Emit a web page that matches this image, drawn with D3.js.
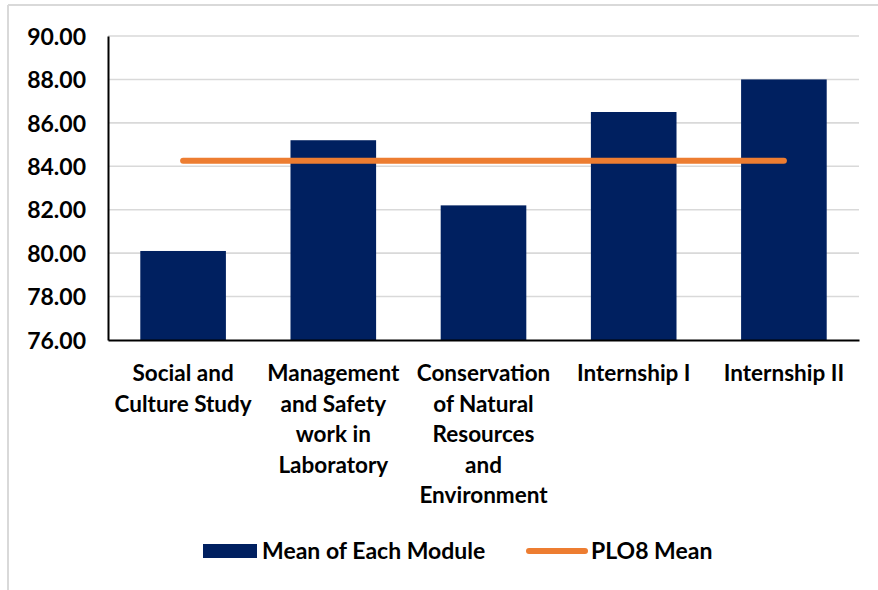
<!DOCTYPE html>
<html>
<head>
<meta charset="utf-8">
<script src="https://cdn.jsdelivr.net/npm/d3@7"></script>
<style>
  body { margin: 0; background: #fff; }
  text { font-family: Lato, "Open Sans", sans-serif; font-weight: bold; fill: #000; }
</style>
</head>
<body>
<script>
/*data*/
const categories = ['Social and Culture Study', 'Management and Safety work in Laboratory',
  'Conservation of Natural Resources and Environment', 'Internship I', 'Internship II'];
const categoryLines = [
  ['Social and', 'Culture Study'],
  ['Management', 'and Safety', 'work in', 'Laboratory'],
  ['Conservation', 'of Natural', 'Resources', 'and', 'Environment'],
  ['Internship I'],
  ['Internship II']
];
const moduleMean = [80.10, 85.20, 82.20, 86.50, 88.00];
const ploMean = [84.25, 84.25, 84.25, 84.25, 84.25];
const yTicks = [76, 78, 80, 82, 84, 86, 88, 90];
const seriesNames = ['Mean of Each Module', 'PLO8 Mean'];

/*canvas size*/
const width = 878;
const height = 590;
const plot = { top: 36, bottom: 340, left: 108, right: 859 };

const svg = d3.select('body')
  .append('svg')
  .attr('width', width)
  .attr('height', height);

/*chart frame (only top and left edges are visible in the crop)*/
svg.append('line').attr('x1', 8).attr('x2', 878).attr('y1', 5).attr('y2', 5)
  .attr('stroke', '#d9d9d9').attr('stroke-width', 2);
svg.append('line').attr('x1', 8).attr('x2', 8).attr('y1', 5).attr('y2', 590)
  .attr('stroke', '#d9d9d9').attr('stroke-width', 2);

/*scales*/
const xScale = d3.scaleBand()
  .domain(categories)
  .range([plot.left, plot.right])
  .paddingInner(0.43)
  .paddingOuter(0.215);
const yScale = d3.scaleLinear()
  .domain([76, 90])
  .range([plot.bottom, plot.top]);

/*gridlines*/
svg.append('g')
  .selectAll('line')
  .data(yTicks.slice(1))
  .enter().append('line')
  .attr('x1', plot.left).attr('x2', plot.right)
  .attr('y1', d => yScale(d)).attr('y2', d => yScale(d))
  .attr('stroke', '#d9d9d9').attr('stroke-width', 1.6);

/*bars*/
svg.append('g')
  .selectAll('rect')
  .data(moduleMean)
  .enter().append('rect')
  .attr('x', (d, i) => xScale(categories[i]))
  .attr('y', d => yScale(d))
  .attr('width', xScale.bandwidth())
  .attr('height', d => yScale(76) - yScale(d))
  .attr('fill', '#002060');

/*mean line*/
const line = d3.line()
  .x((d, i) => xScale(categories[i]) + xScale.bandwidth() / 2)
  .y(d => yScale(d));
svg.append('path').datum(ploMean)
  .attr('fill', 'none').attr('stroke', '#ed7d31').attr('stroke-width', 6)
  .attr('stroke-linecap', 'round').attr('d', line);

/*y axis*/
const yAxis = svg.append('g')
  .attr('transform', `translate(${plot.left},0)`)
  .call(d3.axisLeft(yScale).tickValues(yTicks).tickSize(0).tickPadding(22).tickFormat(d3.format('.2f')));
yAxis.select('.domain').attr('stroke', '#000').attr('stroke-width', 2);
yAxis.selectAll('text').attr('font-size', 23).attr('fill', '#000').attr('dy', '0.36em');

/*x axis*/
const xAxis = svg.append('g')
  .attr('transform', `translate(0,${plot.bottom})`)
  .call(d3.axisBottom(xScale).tickSize(0).tickSizeOuter(0));
xAxis.select('.domain').attr('stroke', '#000').attr('stroke-width', 2);
xAxis.selectAll('.tick text').each(function (d, i) {
  const t = d3.select(this).text(null).attr('font-size', 22.5).attr('fill', '#000').attr('y', 0).attr('dy', null);
  categoryLines[i].forEach((s, j) => {
    t.append('tspan').attr('x', 0).attr('y', 33 + j * 30.5).attr('dy', '0.36em').text(s);
  });
});

/*legend*/
const legend = svg.append('g');
legend.append('rect').attr('x', 203).attr('y', 544).attr('width', 54).attr('height', 14).attr('fill', '#002060');
legend.append('text').attr('x', 262).attr('y', 551).attr('dy', '0.36em').attr('font-size', 23).text(seriesNames[0]);
legend.append('line').attr('x1', 529).attr('x2', 585).attr('y1', 551).attr('y2', 551)
  .attr('stroke', '#ed7d31').attr('stroke-width', 6).attr('stroke-linecap', 'round');
legend.append('text').attr('x', 591).attr('y', 551).attr('dy', '0.36em').attr('font-size', 23).text(seriesNames[1]);
</script>
</body>
</html>
